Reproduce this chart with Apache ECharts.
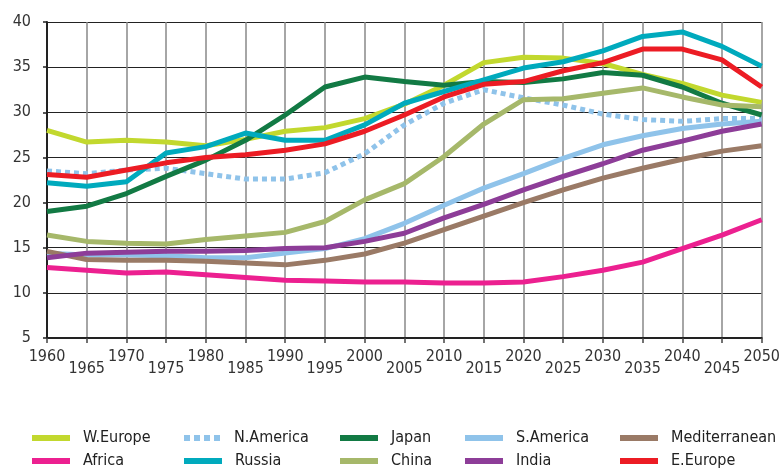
<!DOCTYPE html>
<html><head><meta charset="utf-8">
<script src="https://cdn.jsdelivr.net/npm/echarts@6/dist/echarts.min.js"></script>
<style>html,body{margin:0;padding:0;background:#fff}#c{width:783px;height:468px}</style>
</head><body><div id="c"></div>
<script>
const years = ['1960','1965','1970','1975','1980','1985','1990','1995','2000','2005','2010','2015','2020','2025','2030','2035','2040','2045','2050'];
const wEurope = [28.0,26.7,26.9,26.7,26.3,27.0,27.9,28.3,29.3,30.9,33.0,35.5,36.1,36.0,35.4,34.2,33.2,31.9,31.1];
const nAmerica = [23.5,23.2,23.6,23.8,23.2,22.6,22.6,23.3,25.4,28.6,31.0,32.5,31.6,30.8,29.8,29.2,29.0,29.3,29.3];
const japan = [19.0,19.6,21.0,22.9,24.7,26.9,29.7,32.8,33.9,33.4,33.0,33.4,33.3,33.7,34.4,34.1,32.8,31.0,29.7];
const sAmerica = [14.4,14.2,14.2,14.1,13.9,13.9,14.4,14.9,16.0,17.7,19.7,21.6,23.2,24.9,26.4,27.4,28.2,28.7,29.0];
const mediterranean = [14.6,13.7,13.6,13.6,13.5,13.3,13.1,13.6,14.3,15.5,17.0,18.5,20.0,21.4,22.7,23.8,24.8,25.7,26.3];
const africa = [12.8,12.5,12.2,12.3,12.0,11.7,11.4,11.3,11.2,11.2,11.1,11.1,11.2,11.8,12.5,13.4,14.9,16.4,18.1];
const russia = [22.2,21.8,22.3,25.5,26.2,27.7,26.9,26.9,28.6,31.0,32.3,33.6,34.9,35.6,36.8,38.4,38.9,37.3,35.1];
const china = [16.4,15.7,15.5,15.4,15.9,16.3,16.7,17.9,20.3,22.1,25.1,28.7,31.4,31.5,32.1,32.7,31.7,30.8,30.6];
const india = [13.9,14.4,14.5,14.6,14.6,14.7,14.9,15.0,15.7,16.6,18.3,19.8,21.4,22.9,24.3,25.8,26.8,27.9,28.7];
const eEurope = [23.1,22.8,23.6,24.4,25.0,25.3,25.8,26.5,27.9,29.7,31.7,33.1,33.4,34.6,35.5,37.0,37.0,35.8,32.8];

const FONT = '"DejaVu Sans Condensed","Liberation Sans Narrow","DejaVu Sans",sans-serif';
const defs = [
  {name:'W.Europe', data:wEurope, color:'#c2d82e', left:32, row:0},
  {name:'N.America', data:nAmerica, color:'#8fc3ea', left:184, row:0, dashed:true},
  {name:'Japan', data:japan, color:'#127a44', left:340, row:0},
  {name:'S.America', data:sAmerica, color:'#8fc3ea', left:465, row:0},
  {name:'Mediterranean', data:mediterranean, color:'#9a7a66', left:620, row:0},
  {name:'Africa', data:africa, color:'#ec2090', left:32, row:1},
  {name:'Russia', data:russia, color:'#00aabd', left:184, row:1},
  {name:'China', data:china, color:'#a6b86a', left:340, row:1},
  {name:'India', data:india, color:'#8d3d98', left:465, row:1},
  {name:'E.Europe', data:eEurope, color:'#ec1c24', left:620, row:1}
];
const dashIcon = 'path://M0,0h6v6h-6z M10,0h6v6h-6z M20,0h6v6h-6z M30,0h6v6h-6z';

const chart = echarts.init(document.getElementById('c'));
chart.setOption({
  animation:false,
  backgroundColor:'#fff',
  grid:{left:47,right:15,top:22,bottom:130},
  legend: defs.map(d=>({
    data:[{name:d.name, icon: d.dashed ? dashIcon : 'rect'}],
    left:d.left, top: d.row===0 ? 430 : 453,
    padding:0, itemWidth:38, itemHeight:6,
    selectedMode:false,
    textStyle:{fontFamily:FONT,fontSize:16,color:'#222',padding:[0,0,0,8]}
  })),
  xAxis:{
    type:'category', data:years, boundaryGap:false,
    axisLine:{lineStyle:{color:'#222',width:2}},
    axisTick:{show:true,length:5,lineStyle:{color:'#444',width:1.5},interval:0},
    axisLabel:{interval:0,fontFamily:FONT,fontSize:16,color:'#333',margin:13,lineHeight:12,
      formatter:(v,i)=> i%2===1 ? '\n'+v : v},
    splitLine:{show:true,interval:0,lineStyle:{color:'#888',width:1.5}}
  },
  yAxis:{
    type:'value', min:5, max:40, interval:5,
    axisLine:{show:true,lineStyle:{color:'#222',width:2}},
    axisTick:{show:true,length:4,lineStyle:{color:'#222',width:1.5}},
    axisLabel:{fontFamily:FONT,fontSize:16,color:'#333',margin:16},
    splitLine:{show:true,lineStyle:{color:'#222',width:1.2}}
  },
  series: defs.map(d=>({
    name:d.name, type:'line', data:d.data, symbol:'none', smooth:false,
    lineStyle:{color:d.color,width:5,type: d.dashed ? [5,4] : 'solid', cap:'butt'},
    itemStyle:{color:d.color}
  }))
});
</script></body></html>
